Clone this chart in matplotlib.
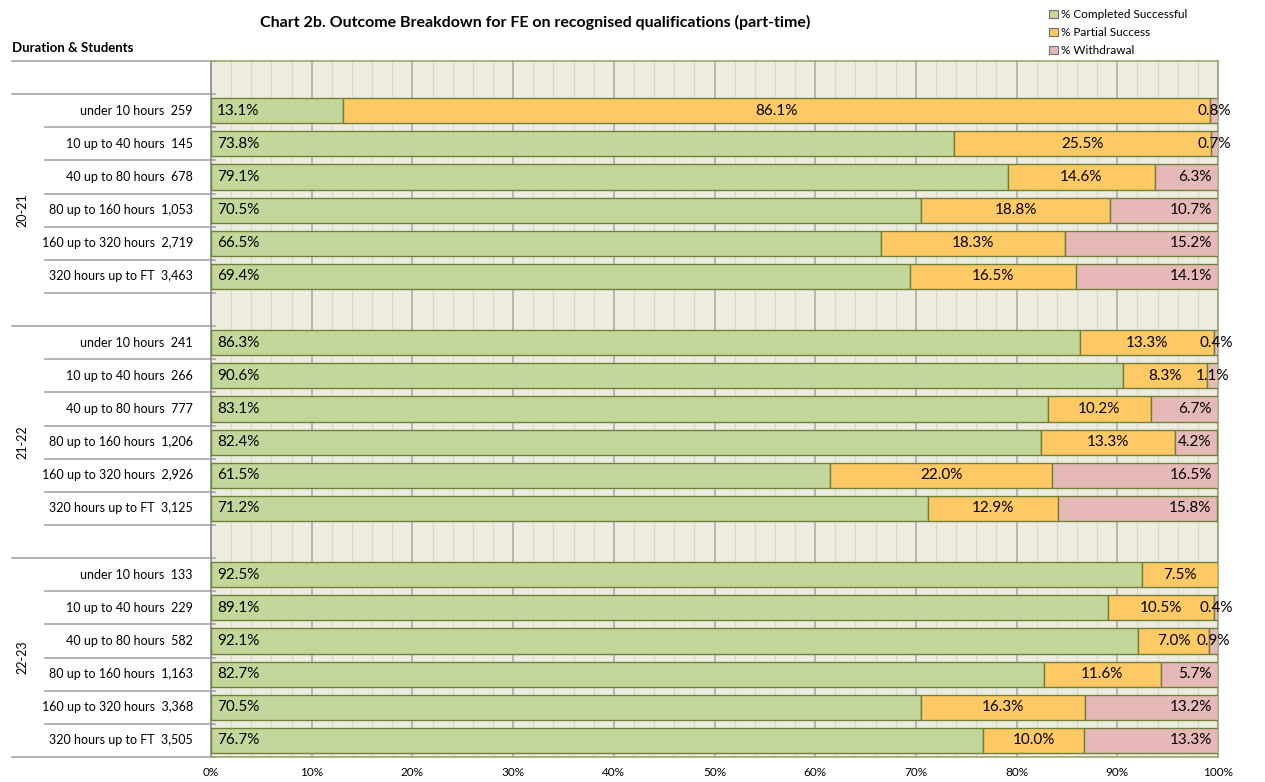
import matplotlib.pyplot as plt
from matplotlib.lines import Line2D
from matplotlib.patches import Patch
import numpy as np

plt.rcParams['font.family'] = ['Lato', 'DejaVu Sans']

# data
groups = ["20-21", "21-22", "22-23"]
durations = ["under 10 hours", "10 up to 40 hours", "40 up to 80 hours",
             "80 up to 160 hours", "160 up to 320 hours", "320 hours up to FT"]
students = [
    ["259", "145", "678", "1,053", "2,719", "3,463"],
    ["241", "266", "777", "1,206", "2,926", "3,125"],
    ["133", "229", "582", "1,163", "3,368", "3,505"],
]
completed = [
    [13.1, 73.8, 79.1, 70.5, 66.5, 69.4],
    [86.3, 90.6, 83.1, 82.4, 61.5, 71.2],
    [92.5, 89.1, 92.1, 82.7, 70.5, 76.7],
]
partial = [
    [86.1, 25.5, 14.6, 18.8, 18.3, 16.5],
    [13.3, 8.3, 10.2, 13.3, 22.0, 12.9],
    [7.5, 10.5, 7.0, 11.6, 16.3, 10.0],
]
withdrawal = [
    [0.8, 0.7, 6.3, 10.7, 15.2, 14.1],
    [0.4, 1.1, 6.7, 4.2, 16.5, 15.8],
    [0.0, 0.4, 0.9, 5.7, 13.2, 13.3],
]
series_names = ["% Completed Successful", "% Partial Success", "% Withdrawal"]

c_green = "#C4D79B"
c_orange = "#FFC965"
c_pink = "#E6B8B7"
c_edge = "#6F8139"
c_bg = "#EEECE1"

fig = plt.figure(figsize=(12.65, 7.82), dpi=100)
ax = fig.add_axes([211/1265, 1-757/782, (1218-211)/1265, (757-61)/782])
ax.set_facecolor(c_bg)

# slot layout: blank slot, then 6 rows per group, blank between groups
ypos = []
slot = 1
for g in range(len(groups)):
    ypos.append([slot + i for i in range(len(durations))])
    slot += len(durations) + 1
nslots = ypos[-1][-1]

# grid
for v in range(0, 101, 2):
    if v % 10 == 0:
        ax.axvline(v, color="#A6A6A6", lw=1.1, zorder=1)
    else:
        ax.axvline(v, color="#D9D7C8", lw=0.8, zorder=1)

fs = 11
for g in range(len(groups)):
    y = np.array(ypos[g])
    c = np.array(completed[g])
    p = np.array(partial[g])
    w = np.array(withdrawal[g])
    ax.barh(y, c, height=0.76, color=c_green, edgecolor=c_edge, lw=1.0, zorder=3)
    ax.barh(y, p, left=c, height=0.76, color=c_orange, edgecolor=c_edge, lw=1.0, zorder=3)
    ax.barh(y, w, left=c + p, height=0.76, color=c_pink, edgecolor=c_edge, lw=1.0, zorder=3)
    for i in range(len(y)):
        ax.text(0.6, y[i], "{:.1f}%".format(c[i]), ha="left", va="center", fontsize=fs, zorder=5)
        ax.text(c[i] + p[i] / 2, y[i], "{:.1f}%".format(p[i]), ha="center", va="center",
                fontsize=fs, zorder=5)
        if w[i] > 0:
            if w[i] < 3:
                ax.text(c[i] + p[i] + w[i] / 2, y[i], "{:.1f}%".format(w[i]), ha="center",
                        va="center", fontsize=fs, zorder=5)
            else:
                ax.text(c[i] + p[i] + w[i] - 0.6, y[i], "{:.1f}%".format(w[i]), ha="right",
                        va="center", fontsize=fs, zorder=5)

ax.set_xlim(0, 100)
ax.set_ylim(nslots + 0.5, -0.5)
ax.set_xticks(range(0, 101, 10))
ax.set_xticklabels(["{}%".format(v) for v in range(0, 101, 10)], fontsize=8.5)
ax.tick_params(axis="x", length=0, pad=7)
ax.set_yticks([])
for s in ax.spines.values():
    s.set_color("#98A66E")
    s.set_linewidth(1.2)
ax.spines["left"].set_color("#8C8C8C")

# category axis drawn by hand (two levels)
trans = ax.get_yaxis_transform()
x_long = (12 - 211) / (1218 - 211)
x_short = (45 - 211) / (1218 - 211)
x_lab = (193 - 211) / (1218 - 211)
x_grp = (22 - 211) / (1218 - 211)
bounds = [-0.5, 0.5]
for g in range(len(groups)):
    for yy in ypos[g]:
        bounds.append(yy + 0.5)
long_b = {-0.5, 0.5, nslots + 0.5}
for g in range(1, len(groups)):
    long_b.add(ypos[g][0] - 0.5)
for b in sorted(set(bounds) | long_b):
    x0 = x_long if b in long_b else x_short
    ax.add_line(Line2D([x0, 0.004], [b, b], transform=trans, color="#A6A6A6",
                       lw=1.2, clip_on=False))

for g in range(len(groups)):
    for i, yy in enumerate(ypos[g]):
        ax.text(x_lab, yy, durations[i] + "  " + students[g][i], transform=trans,
                ha="right", va="center", fontsize=9)
    top = ypos[g][0] - 0.5
    bot = ypos[g + 1][0] - 0.5 if g + 1 < len(groups) else nslots + 0.5
    ax.text(x_grp, (top + bot) / 2, groups[g], transform=trans, rotation=90,
            ha="center", va="center", fontsize=9)

fig.text(535/1265, 1-22/782,
         "Chart 2b. Outcome Breakdown for FE on recognised qualifications (part-time)",
         ha="center", va="center", fontsize=11.5, fontweight="bold")
fig.text(12/1265, 1-48/782, "Duration & Students", ha="left", va="center",
         fontsize=9.5, fontweight="bold")

handles = [Patch(facecolor=col, edgecolor="#6F6F6F", lw=0.8)
           for col in (c_green, c_orange, c_pink)]
fig.legend(handles, series_names, loc="upper left", bbox_to_anchor=(1043/1265, 0.997),
           frameon=False, fontsize=8.5, handlelength=0.7, handleheight=0.7,
           handletextpad=0.3, labelspacing=0.6, borderaxespad=0.15)

fig.savefig("out.png", dpi=100)
